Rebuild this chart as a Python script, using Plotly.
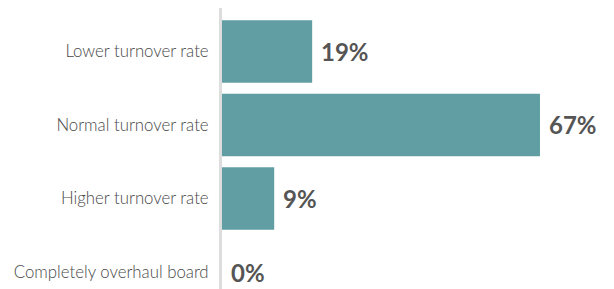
import plotly.graph_objects as go

categories = ["Lower turnover rate", "Normal turnover rate", "Higher turnover rate", "Completely overhaul board"]
bar_values = [19, 67, 11, 0]
value_labels = ["19%", "67%", "9%", "0%"]

positions = list(range(len(categories)))

fig = go.Figure()
fig.add_trace(go.Bar(
    x=bar_values, y=positions, orientation="h",
    marker=dict(color="#619EA3", line=dict(width=0)),
    width=0.85, hoverinfo="skip",
))
for p, v, lab in zip(positions, bar_values, value_labels):
    fig.add_annotation(x=v, y=p, text="<b>" + lab + "</b>", showarrow=False,
                       xanchor="left", yanchor="middle", xshift=7, yshift=0,
                       font=dict(family="Lato", size=24, color="#555555"))

fig.update_layout(
    width=614, height=289,
    margin=dict(l=222, r=0, t=8, b=0, autoexpand=False),
    paper_bgcolor="white", plot_bgcolor="white",
    showlegend=False,
    xaxis=dict(range=[0, 82.6], visible=False, fixedrange=True, automargin=False),
    yaxis=dict(range=[3.23, -0.59], tickmode="array", tickvals=positions, ticktext=categories,
               showgrid=False, zeroline=False, showline=True, linecolor="#DDDDDD", linewidth=3,
               ticks="", ticklabelstandoff=7, automargin=False, fixedrange=True,
               tickfont=dict(family="Lato", size=16.8, color="#484848", weight=300)),
)
fig.write_html("out.html", config={"displayModeBar": False},
               post_script="document.body.style.margin='0';")
